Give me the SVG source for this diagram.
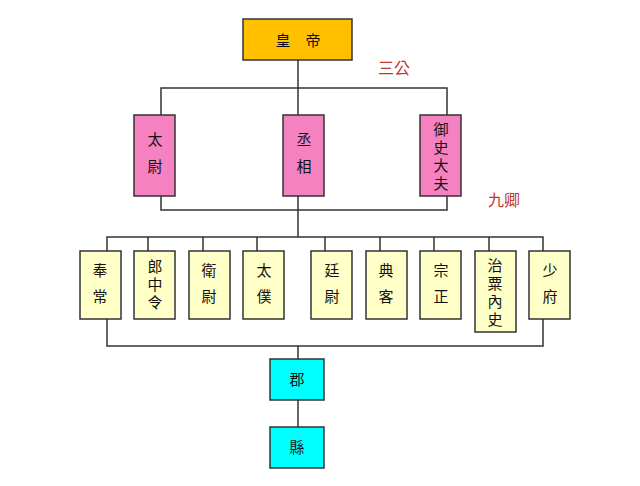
<svg xmlns="http://www.w3.org/2000/svg" width="640" height="486" viewBox="0 0 640 486">
<style>
rect{stroke:#333;stroke-width:1.5}
.e{fill:#ffc000}.p{fill:#f681c0}.y{fill:#ffffc8}.c{fill:#00ffff}
text{font-family:"Noto Sans CJK TC","Noto Sans CJK SC",sans-serif;font-size:15px;fill:#111;text-anchor:middle}
.r{fill:#c0392b;font-size:16px;text-anchor:start}
#connectors path{fill:none;stroke:#333;stroke-width:1.5}
</style>
<rect width="640" height="486" fill="#fff" style="stroke:none"/>
<g id="connectors">
<path d="M298 60V88M161 115V88H447V115M298 88V115"/>
<path d="M161 196V210H447V196M298 196V237M107 251V237H543V251M148 237V251M203 237V251M257 237V251M325 237V251M380 237V251M434 237V251M489 237V251"/>
<path d="M107 319V346H543V319M298 346V359M298 400V427"/>
</g>
<g id="emperor"><rect class="e" x="243" y="19" width="109" height="41"/><text x="298" y="46">皇　帝</text></g>
<text class="r" x="378" y="74">三公</text>
<text class="r" x="488" y="206">九卿</text>
<g id="taiwei"><rect class="p" x="134" y="115" width="41" height="81"/><text x="155" y="145">太</text><text x="155" y="172">尉</text></g>
<g id="chengxiang"><rect class="p" x="283" y="115" width="41" height="81"/><text x="304" y="145">丞</text><text x="304" y="172">相</text></g>
<g id="yushi"><rect class="p" x="420" y="115" width="41" height="81"/><text x="441" y="135">御</text><text x="441" y="153">史</text><text x="441" y="171">大</text><text x="441" y="189">夫</text></g>
<g id="fengchang"><rect class="y" x="80" y="251" width="41" height="68"/><text x="100" y="276">奉</text><text x="100" y="302">常</text></g>
<g id="langzhongling"><rect class="y" x="134" y="251" width="41" height="68"/><text x="155" y="272">郎</text><text x="155" y="290">中</text><text x="155" y="308">令</text></g>
<g id="weiwei"><rect class="y" x="189" y="251" width="41" height="68"/><text x="209" y="276">衛</text><text x="209" y="302">尉</text></g>
<g id="taipu"><rect class="y" x="243" y="251" width="41" height="68"/><text x="264" y="276">太</text><text x="264" y="302">僕</text></g>
<g id="tingwei"><rect class="y" x="311" y="251" width="41" height="68"/><text x="332" y="276">廷</text><text x="332" y="302">尉</text></g>
<g id="dianke"><rect class="y" x="366" y="251" width="41" height="68"/><text x="386" y="276">典</text><text x="386" y="302">客</text></g>
<g id="zongzheng"><rect class="y" x="420" y="251" width="41" height="68"/><text x="441" y="276">宗</text><text x="441" y="302">正</text></g>
<g id="zhisu"><rect class="y" x="475" y="251" width="41" height="81"/><text x="495" y="271">治</text><text x="495" y="289">粟</text><text x="495" y="307">內</text><text x="495" y="325">史</text></g>
<g id="shaofu"><rect class="y" x="529" y="251" width="41" height="68"/><text x="550" y="276">少</text><text x="550" y="302">府</text></g>
<g id="jun"><rect class="c" x="270" y="359" width="54" height="41"/><text x="297" y="385">郡</text></g>
<g id="xian"><rect class="c" x="270" y="427" width="54" height="41"/><text x="297" y="453">縣</text></g>
</svg>
